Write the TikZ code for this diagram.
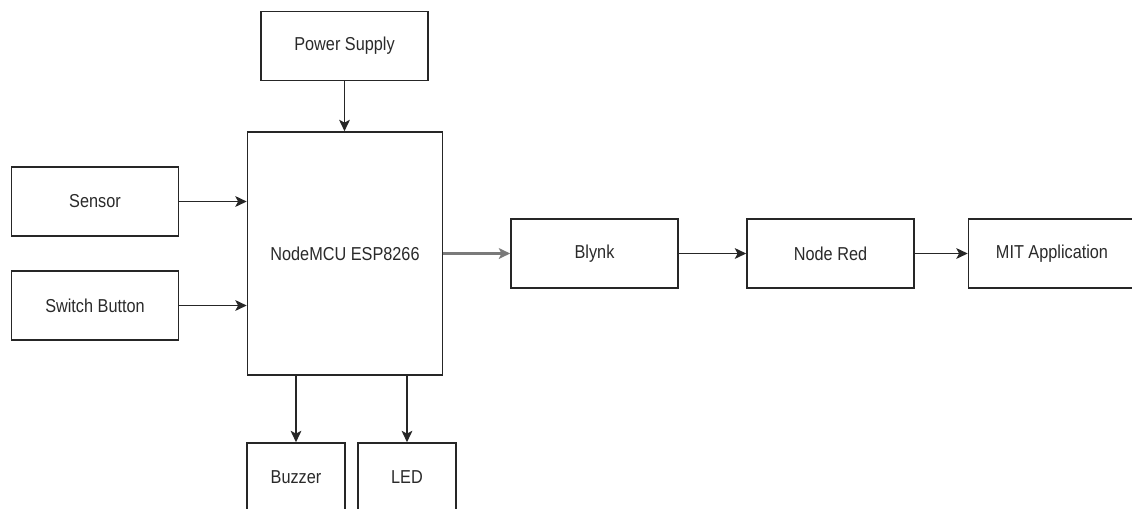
\documentclass[tikz,border=0pt]{standalone}
\usepackage{fontspec}
\usepackage{graphicx}
\setmainfont{Liberation Sans}
\usetikzlibrary{arrows.meta}
\definecolor{txt}{HTML}{2A2A2A}
\definecolor{gline}{HTML}{7A7A7A}
\newcommand{\tx}[1]{\scalebox{1}[1.15]{#1}}
\tikzset{
  blk/.style={draw=black!85, line width=1.2pt, fill=white, inner sep=0pt, font=\fontsize{12.2}{14}\selectfont, text=txt},
  stdbox/.style={blk, minimum width=125.25pt, minimum height=51.75pt},
  smallbox/.style={blk, minimum width=73.5pt, minimum height=51pt},
  mainbox/.style={blk, minimum width=146.25pt, minimum height=182.25pt},
  conn/.style={line width=1.2pt, draw=black!85, -{Stealth[length=8.5pt,width=8pt,inset=2pt]}},
}
\begin{document}
\begin{tikzpicture}[x=0.75pt,y=-0.75pt]
\useasboundingbox (0,0) rectangle (1132,508);
\clip (0,0) rectangle (1132,508);
\fill[white] (0,0) rectangle (1132,508);
\node[stdbox] (ps) at (344.5,46) {\tx{Power Supply}};
\node[mainbox] (mcu) at (345,253.5) {\tx{NodeMCU ESP8266}};
\node[stdbox] (sen) at (95,201.5) {\tx{Sensor}};
\node[stdbox] (sw) at (95,305.5) {\tx{Switch Button}};
\node[smallbox] (bz) at (296,477) {\tx{Buzzer}};
\node[smallbox] (led) at (407,477) {\tx{LED}};
\node[stdbox] (bl) at (594.5,253.5) {\tx{Blynk}};
\node[stdbox] (nr) at (830.5,253.5) {\tx{Node Red}};
\node[stdbox] (mit) at (1052,253.5) {\tx{MIT Application}};
\draw[conn] (ps.south) -- (ps.south |- mcu.north);
\draw[conn] (sen.east) -- (sen.east -| mcu.west);
\draw[conn] (sw.east) -- (sw.east -| mcu.west);
\draw[conn] (mcu.south -| bz.north) -- (bz.north);
\draw[conn] (mcu.south -| led.north) -- (led.north);
\draw[conn, draw=gline, line width=2pt] (mcu.east) -- (bl.west);
\draw[conn] (bl.east) -- (nr.west);
\draw[conn] (nr.east) -- (mit.west);
\end{tikzpicture}
\end{document}
